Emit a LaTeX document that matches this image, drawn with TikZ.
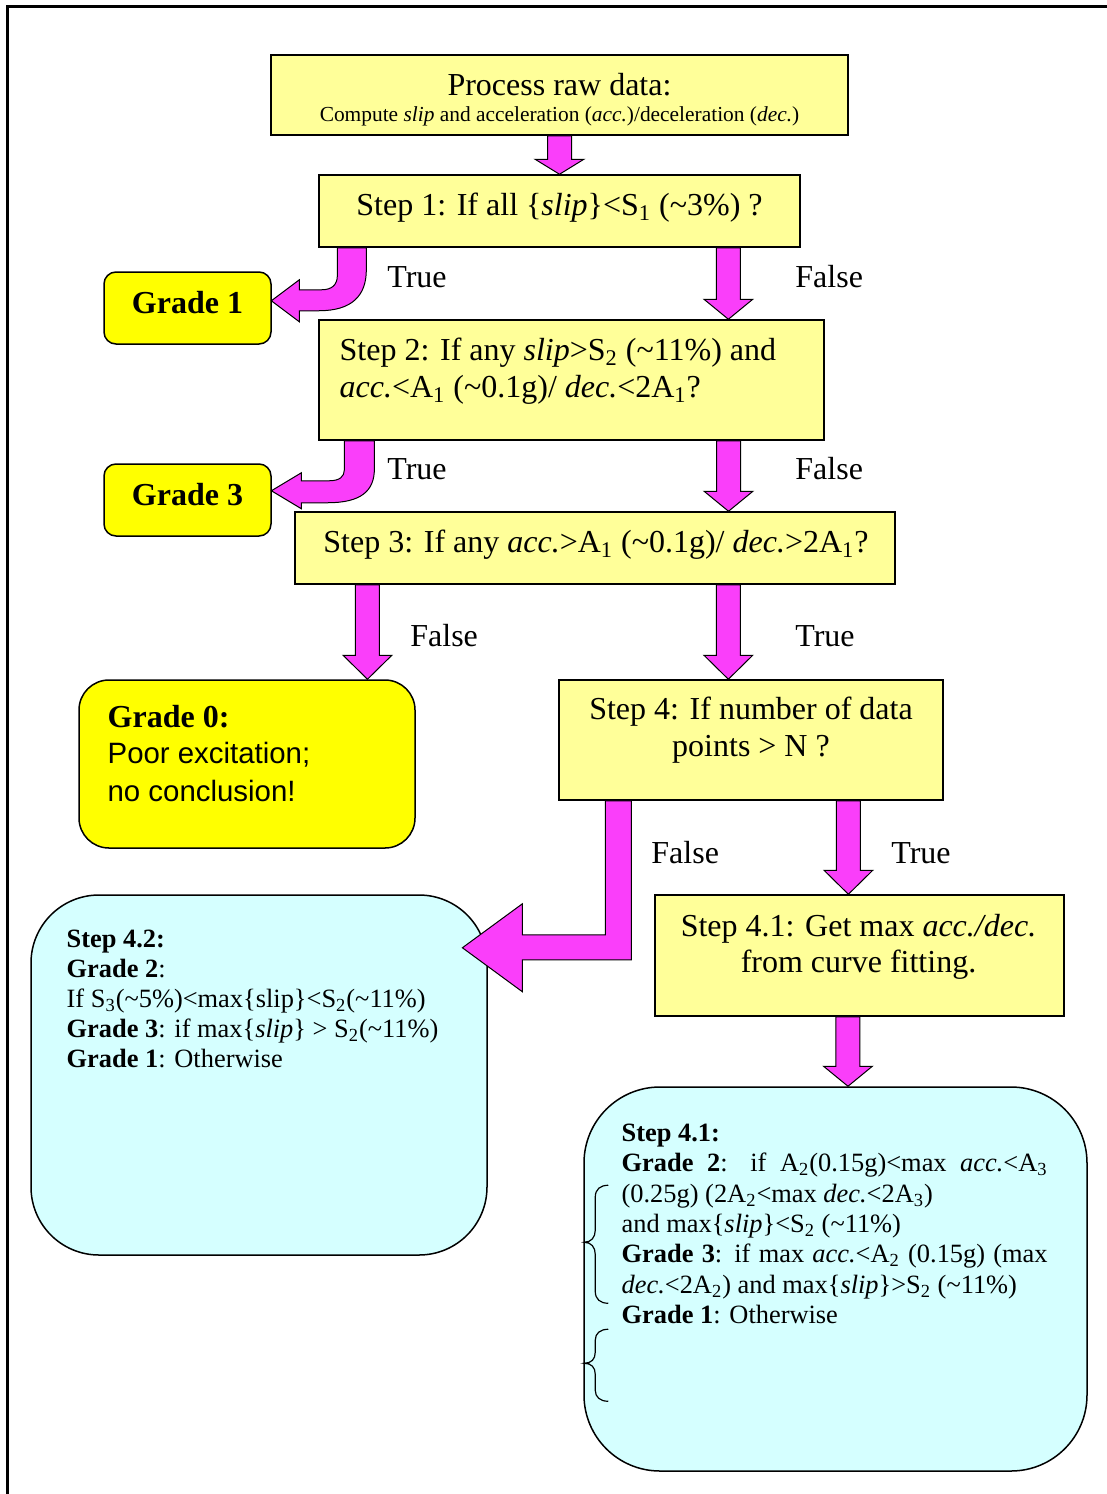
\documentclass[tikz,border=0pt]{standalone}
\usepackage{fontspec}
\setmainfont{Liberation Serif}
\newfontfamily\arialfont{Liberation Sans}
\usetikzlibrary{calc}
\definecolor{boxyellow}{RGB}{255,255,153}
\definecolor{gradeyellow}{RGB}{255,255,0}
\definecolor{resultcyan}{RGB}{213,255,255}
\definecolor{arrowmag}{RGB}{250,62,250}
\newcommand\mainsz{\fontsize{16pt}{18.5pt}\selectfont}
\newcommand\subsz{\fontsize{10.7pt}{12.5pt}\selectfont}
\newcommand\notesz{\fontsize{13.2pt}{15.2pt}\selectfont}
\newcommand\sanssz{\fontsize{14.7pt}{17pt}\selectfont}
\newcommand\tld{\textasciitilde}
\newcommand\sbs[1]{\textsubscript{#1}}
\newcommand\downblock[3][20]{%
  \draw[blockarrow] let \p1=(#2), \p2=(#3) in
   (\x1-6pt,\y1) -- (\x1-6pt,\y2+#1*0.5pt) -- (\x1-12.2pt,\y2+#1*0.5pt) -- (\x1,\y2)
   -- (\x1+12.2pt,\y2+#1*0.5pt) -- (\x1+6pt,\y2+#1*0.5pt) -- (\x1+6pt,\y1) -- cycle;}
\tikzset{
 stepbox/.style={draw=black, line width=0.75pt, fill=boxyellow, inner sep=0pt},
 gradebox/.style={draw=black, line width=0.75pt, fill=gradeyellow, rounded corners=6pt, inner sep=0pt},
 notebox/.style={draw=black, line width=0.75pt, fill=resultcyan, inner sep=0pt},
 blockarrow/.style={draw=black, line width=0.5pt, fill=arrowmag, line join=miter},
 txt/.style={inner sep=0pt, font=\mainsz},
 lbl/.style={inner sep=0pt, anchor=base west, font=\mainsz},
 notetxt/.style={inner sep=0pt, anchor=base west, font=\notesz},
 bracestyle/.style={draw=black, line width=0.6pt},
 frameline/.style={draw=black, line width=1.5pt}
}
\begin{document}
\begin{tikzpicture}[x=0.5pt,y=-0.5pt]
\useasboundingbox (0,0) rectangle (1107,1494);
\draw[frameline] (1130,6) -- (7,6) -- (7,1520);

% boxes
\node[stepbox, minimum width=288.5pt, minimum height=40pt] (raw) at (559.5,95) {};
\node[stepbox, minimum width=240.5pt, minimum height=36pt] (s1) at (559.5,211) {};
\node[stepbox, minimum width=252.5pt, minimum height=60pt] (s2) at (571.5,380) {};
\node[stepbox, minimum width=300pt, minimum height=36pt] (s3) at (595,548) {};
\node[stepbox, minimum width=192pt, minimum height=60pt] (s4) at (751,740) {};
\node[stepbox, minimum width=204.5pt, minimum height=60.5pt] (s41) at (859.5,955.5) {};
\node[gradebox, minimum width=83.5pt, minimum height=36pt] (g1) at (187.5,308) {};
\node[gradebox, minimum width=83.5pt, minimum height=36pt] (g3) at (187.5,500) {};
\node[gradebox, rounded corners=15pt, minimum width=168pt, minimum height=84pt] (g0) at (247,764) {};
\node[notebox, rounded corners=34pt, minimum width=228pt, minimum height=180pt] (r42) at (259,1075) {};
\node[notebox, rounded corners=38pt, minimum width=251.5pt, minimum height=192pt] (r41) at (835.5,1279) {};

% arrow anchor points
\coordinate (a0) at (raw.south);
\coordinate (a1) at ($(s1.south west)!0.85!(s1.south east)$);
\coordinate (a2) at ($(s2.south west)!0.81!(s2.south east)$);
\coordinate (a3) at ($(s3.south west)!0.7217!(s3.south east)$);
\coordinate (a3f) at ($(s3.south west)!0.1217!(s3.south east)$);
\coordinate (a4) at ($(s4.south west)!0.7526!(s4.south east)$);
\coordinate (a41) at ($(s41.south west)!0.4719!(s41.south east)$);
\coordinate (b1) at ($(s1.south west)!0.0696!(s1.south east)$);
\coordinate (b2) at ($(s2.south west)!0.0812!(s2.south east)$);
\coordinate (b4) at ($(s4.south west)!0.156!(s4.south east)$);

% straight block arrows
\downblock[15]{a0}{a0 |- s1.north}
\downblock{a1}{a1 |- s2.north}
\downblock{a2}{a2 |- s3.north}
\downblock[24]{a3}{a3 |- s4.north}
\downblock[24]{a3f}{a3f |- g0.north}
\downblock[24]{a4}{a4 |- s41.north}
\downblock[20]{a41}{a41 |- r41.north}

% bent arrows
\begin{scope}[shift={(b1)}]
\draw[blockarrow] (-14.5,0) -- (-14.5,28) .. controls (-14.5,37) and (-20,42) .. (-30,42)
  -- (-52.5,42) -- (-52.5,32) -- (-80.5,53) -- (-52.5,74) -- (-52.5,63) -- (-33,63)
  .. controls (0,63) and (14.5,48) .. (14.5,22) -- (14.5,0) -- cycle;
\end{scope}
\begin{scope}[shift={(b2)}]
\draw[blockarrow] (-15,0) -- (-15,29) .. controls (-15,36) and (-20,40) .. (-30,40)
  -- (-58,40) -- (-58,32) -- (-88,50) -- (-58,68) -- (-58,62) -- (-32,62)
  .. controls (2,62) and (15,50) .. (15,28) -- (15,0) -- cycle;
\end{scope}
\begin{scope}[shift={(b4)}]
\draw[blockarrow] (-13,0) -- (-13,134) -- (-96,134) -- (-96,103) -- (-156,147)
  -- (-96,191) -- (-96,159) -- (13,159) -- (13,0) -- cycle;
\end{scope}

% braces in Step 4.1 result box
\begin{scope}[shift={(r41.north west)}]
\draw[bracestyle] (25,99) .. controls (17,99) and (12,103) .. (12,111) -- (12,144)
  .. controls (12,151) and (8,156) .. (1,156) .. controls (8,156) and (12,161) .. (12,168)
  -- (12,205) .. controls (12,213) and (17,217) .. (25,217);
\draw[bracestyle] (25,243) .. controls (17,243) and (12,247) .. (12,254) -- (12,266)
  .. controls (12,273) and (8,277) .. (1,277) .. controls (8,277) and (12,281) .. (12,288)
  -- (12,304) .. controls (12,311) and (17,315) .. (25,315);
\end{scope}

% texts
\node[txt, anchor=base] (rawt) at ($(raw.north)+(0,41)$) {Process raw data:};
\node[txt, anchor=base, font=\subsz] (raws) at ($(raw.north)+(0,67)$) {Compute \textit{slip} and acceleration (\textit{acc.})/deceleration (\textit{dec.})};
\node[txt, anchor=base] (s1t) at ($(s1.north)+(0,41)$) {Step 1: If all \{\textit{slip}\}<S\sbs{1} (\tld3\%) ?};
\node[txt, anchor=base west] (s2a) at ($(s2.north west)+(21,41)$) {Step 2: If any \textit{slip}>S\sbs{2} (\tld11\%) and};
\node[txt, anchor=base west] (s2b) at ($(s2.north west)+(21,78)$) {\textit{acc.}<A\sbs{1} (\tld0.1g)/ \textit{dec.}<2A\sbs{1}?};
\node[txt, anchor=base] (s3t) at ($(s3.north)+(1,41)$) {Step 3: If any \textit{acc.}>A\sbs{1} (\tld0.1g)/ \textit{dec.}>2A\sbs{1}?};
\node[txt, anchor=base] (s4a) at ($(s4.north)+(0,40)$) {Step 4: If number of data};
\node[txt, anchor=base] (s4b) at ($(s4.north)+(0,77)$) {points > N ?};
\node[txt, anchor=base] (s41a) at ($(s41.north)+(-1,42)$) {Step 4.1: Get max \textit{acc./dec.}};
\node[txt, anchor=base] (s41b) at ($(s41.north)+(-1,78)$) {from curve fitting.};
\node[txt, anchor=base, font=\mainsz\bfseries] (g1t) at ($(g1.center)+(0,5)$) {Grade 1};
\node[txt, anchor=base, font=\mainsz\bfseries] (g3t) at ($(g3.center)+(0,5)$) {Grade 3};
\node[txt, anchor=base west, font=\mainsz\bfseries] (g0a) at ($(g0.north west)+(29,48)$) {Grade 0:};
\node[txt, anchor=base west, font=\sanssz\arialfont] (g0b) at ($(g0.north west)+(29,84)$) {Poor excitation;};
\node[txt, anchor=base west, font=\sanssz\arialfont] (g0c) at ($(g0.north west)+(29,122)$) {no conclusion!};

% branch labels
\node[lbl] (lt1) at (387,287) {True};
\node[lbl] (lf1) at (795,287) {False};
\node[lbl] (lt2) at (387,479) {True};
\node[lbl] (lf2) at (795,479) {False};
\node[lbl] (lf3) at (410,646) {False};
\node[lbl] (lt3) at (795,646) {True};
\node[lbl] (lf4) at (651,863) {False};
\node[lbl] (lt4) at (891,863) {True};

% Step 4.2 notes
\node[notetxt] (n1) at ($(r42.north west)+(36,53)$) {\textbf{Step 4.2:}};
\node[notetxt] (n2) at ($(r42.north west)+(36,83)$) {\textbf{Grade 2}:};
\node[notetxt] (n3) at ($(r42.north west)+(36,113)$) {If S\sbs{3}(\tld5\%)<max\{slip\}<S\sbs{2}(\tld11\%)};
\node[notetxt] (n4) at ($(r42.north west)+(36,143)$) {\textbf{Grade 3}: if max\{\textit{slip}\} > S\sbs{2}(\tld11\%)};
\node[notetxt] (n5) at ($(r42.north west)+(36,173)$) {\textbf{Grade 1}: Otherwise};

% Step 4.1 notes
\node[notetxt] (m1) at ($(r41.north west)+(38,55)$) {\textbf{Step 4.1:}};
\node[notetxt] (m2) at ($(r41.north west)+(38,85)$) {\makebox[213pt][s]{\textbf{Grade 2}: if A\sbs{2}(0.15g)<max \textit{acc.}<A\sbs{3}}};
\node[notetxt] (m3) at ($(r41.north west)+(38,116)$) {(0.25g) (2A\sbs{2}<max \textit{dec.}<2A\sbs{3})};
\node[notetxt] (m4) at ($(r41.north west)+(38,146)$) {and max\{\textit{slip}\}<S\sbs{2} (\tld11\%)};
\node[notetxt] (m5) at ($(r41.north west)+(38,176)$) {\makebox[213pt][s]{\textbf{Grade 3}: if max \textit{acc.}<A\sbs{2} (0.15g) (max}};
\node[notetxt] (m6) at ($(r41.north west)+(38,207)$) {\textit{dec.}<2A\sbs{2}) and max\{\textit{slip}\}>S\sbs{2} (\tld11\%)};
\node[notetxt] (m7) at ($(r41.north west)+(38,237)$) {\textbf{Grade 1}: Otherwise};
\end{tikzpicture}
\end{document}
